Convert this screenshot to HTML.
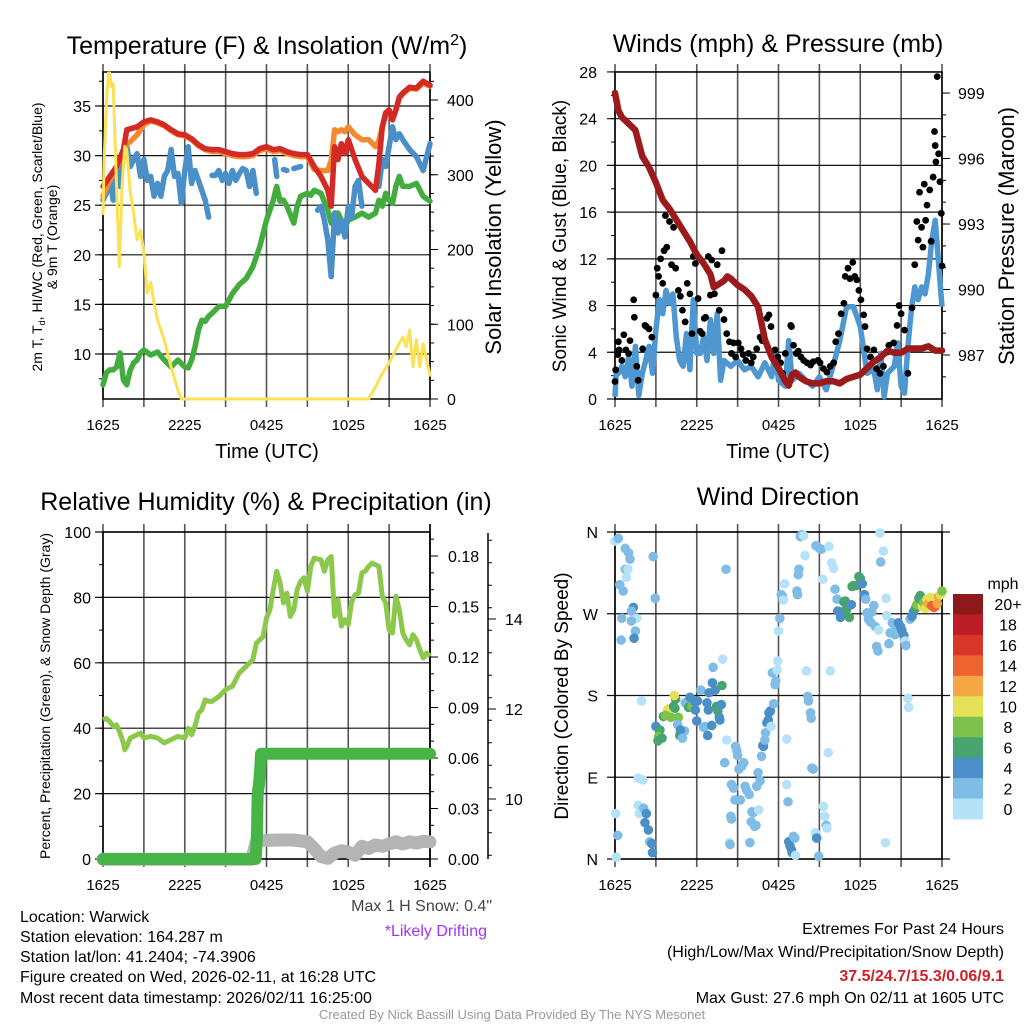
<!DOCTYPE html>
<html><head><meta charset="utf-8"><style>
html,body{margin:0;padding:0;background:#fff;}
svg{display:block;font-family:"Liberation Sans",Arial,sans-serif;}
</style></head><body>
<svg id="fig" width="1024" height="1024" viewBox="0 0 1024 1024" xmlns="http://www.w3.org/2000/svg">
<rect width="1024" height="1024" fill="#fff"/>
<g id="layer"></g>
<text x="267" y="54" font-size="25" text-anchor="middle">Temperature (F) &amp; Insolation (W/m<tspan dy="-9" font-size="16">2</tspan><tspan dy="9">)</tspan></text>
<text x="778" y="52" font-size="25" text-anchor="middle">Winds (mph) &amp; Pressure (mb)</text>
<text x="266" y="510" font-size="25" text-anchor="middle">Relative Humidity (%) &amp; Precipitation (in)</text>
<text x="778" y="505" font-size="25" text-anchor="middle">Wind Direction</text>

<text transform="translate(42,237) rotate(-90)" font-size="14" text-anchor="middle">2m T, T<tspan dy="3" font-size="9">d</tspan><tspan dy="-3">, HI/WC (Red, Green, Scarlet/Blue)</tspan></text>
<text transform="translate(57,237) rotate(-90)" font-size="14" text-anchor="middle">&amp; 9m T (Orange)</text>
<text transform="translate(501,237) rotate(-90)" font-size="22" text-anchor="middle">Solar Insolation (Yellow)</text>
<text transform="translate(566,236) rotate(-90)" font-size="19" text-anchor="middle">Sonic Wind &amp; Gust (Blue, Black)</text>
<text transform="translate(1014,236) rotate(-90)" font-size="22" text-anchor="middle">Station Pressure (Maroon)</text>
<text transform="translate(50,696) rotate(-90)" font-size="14" text-anchor="middle">Percent, Precipitation (Green), &amp; Snow Depth (Gray)</text>
<text transform="translate(568,696) rotate(-90)" font-size="19" text-anchor="middle">Direction (Colored By Speed)</text>
<text x="267" y="458" font-size="20" text-anchor="middle">Time (UTC)</text>
<text x="778" y="458" font-size="20" text-anchor="middle">Time (UTC)</text>

<text x="492" y="911" font-size="16" fill="#444" text-anchor="end">Max 1 H Snow: 0.4"</text>
<text x="487" y="936" font-size="16" fill="#a335f0" text-anchor="end">*Likely Drifting</text>
<g font-size="16">
<text x="20" y="922">Location: Warwick</text>
<text x="20" y="942">Station elevation: 164.287 m</text>
<text x="20" y="962">Station lat/lon: 41.2404; -74.3906</text>
<text x="20" y="982">Figure created on Wed, 2026-02-11, at 16:28 UTC</text>
<text x="20" y="1003">Most recent data timestamp: 2026/02/11 16:25:00</text>
</g>
<g font-size="16" text-anchor="end">
<text x="1004" y="934">Extremes For Past 24 Hours</text>
<text x="1004" y="957">(High/Low/Max Wind/Precipitation/Snow Depth)</text>
<text x="1004" y="981" fill="#d0202a" font-weight="bold">37.5/24.7/15.3/0.06/9.1</text>
<text x="1004" y="1003">Max Gust: 27.6 mph On 02/11 at 1605 UTC</text>
</g>
<text x="512" y="1019" font-size="13" fill="#999" text-anchor="middle">Created By Nick Bassill Using Data Provided By The NYS Mesonet</text>
</svg>
<script>
// ---------- Panel 1 data ----------
const tempHours = [0,0.5,1,1.5,1.75,2,2.5,3,3.5,4,4.5,5,5.5,6,6.5,7,7.5,8,8.5,9,9.5,10,10.5,11,11.5,12,12.5,13,13.5,14,14.5,15,15.5,16,16.5,16.75,17,17.25,17.5,17.75,18,18.5,19,19.5,20,20.25,20.5,20.75,21,21.25,21.5,21.75,22,22.5,23,23.5,24];
const tempRed = [26.9,27.9,28.9,30.6,32.6,32.7,32.9,33.4,33.6,33.4,33.1,32.6,32.2,32.1,31.7,31.1,30.7,30.6,30.6,30.4,30.2,30.1,30.1,30.2,30.7,30.9,30.6,30.7,30.4,30.2,30.1,30.1,28.9,27.9,26.5,24.9,30.9,29.6,31.2,30.2,31.6,29.6,27.9,27.2,26.5,29.2,32.9,34.3,34.6,33.6,34.6,35.9,36.3,36.9,36.8,37.5,37.1];
const tempOrange = [25.9,27.5,28.9,30.2,31.2,31.4,32.1,33.1,33.5,33.3,33.0,32.5,32.1,32.0,31.6,31.0,30.6,30.4,30.4,30.2,30.0,29.9,29.9,30.0,30.5,30.7,30.4,30.5,30.2,30.0,29.9,29.9,28.6,28.5,28.5,29.5,32.6,32.4,32.6,32.4,32.9,32.1,31.6,31.6,30.9,31.5,32.9,34.0,34.5,33.8,34.6,35.8,36.2,36.8,36.7,37.3,37.0];
const hiwcHours = [0,0.25,0.5,0.75,1,1.25,1.5,1.75,2,2.25,2.5,2.75,3,3.25,3.5,3.75,4,4.25,4.5,4.75,5,5.25,5.5,5.75,6,6.25,6.5,6.75,7,7.25,7.5,7.75,7.9,8,8.25,8.5,8.75,9,9.25,9.5,9.75,10,10.25,10.5,10.75,11,11.25,11.4,11.75,11.9,12.6,12.75,12.9,13.25,13.5,13.6,14,14.5,15.6,15.75,16,16.25,16.5,16.75,17,17.25,17.5,17.75,18,18.25,18.5,18.75,19,19.3,20.25,20.5,20.75,21,21.25,21.5,21.75,22,22.5,23,23.5,24];
const hiwcBlue = [25.5,26.2,27.9,25.5,28.5,26.9,30.2,30.9,28.9,29.6,30.2,27.9,29.6,27.5,27.9,25.9,27.2,25.9,27.9,28.5,30.6,27.9,28.2,25.2,28.5,30.9,27.2,28.5,27.5,26.5,25.5,23.8,null,28.0,28.0,28.5,27.5,28.2,27.2,28.5,27.5,28.2,28.7,28.5,26.9,28.5,26.2,null,28.2,null,29.6,27.9,null,28.6,28.5,null,28.7,28.9,null,24.5,24.9,23.5,21.5,17.8,24.2,22.2,23.5,21.8,24.9,23.8,26.9,27.5,24.9,null,26.9,29.6,28.9,30.9,32.9,31.6,32.2,31.6,30.6,29.9,28.5,31.2];
const dewHours = [0,0.25,0.5,0.75,1,1.25,1.5,1.75,2,2.25,2.5,2.75,3,3.5,4,4.5,5,5.5,6,6.25,6.5,6.75,7,7.25,7.5,7.75,8,8.5,9,9.5,10,10.5,11,11.5,12,12.5,12.75,13,13.25,13.5,14,14.25,14.5,15,15.25,15.5,16,16.5,16.75,17,17.25,17.5,17.75,18,18.5,19,19.5,20,20.25,20.5,20.75,21,21.25,21.5,21.75,22,22.5,23,23.5,24];
const dewGreen = [6.9,8.1,8.4,8.4,8.7,10.1,7.4,6.9,8.4,9.1,9.4,10.1,10.4,9.9,10.2,9.4,8.7,9.4,8.7,8.6,9.4,10.7,12.4,13.4,13.3,13.8,14.1,14.8,14.8,16.1,17.0,17.6,18.8,20.8,23.5,25.5,26.9,25.4,25.5,24.9,23.2,24.9,25.9,26.2,26.0,26.5,26.2,24.5,23.2,24.2,24.2,23.5,22.8,23.5,23.8,24.2,23.8,24.2,25.5,24.9,26.2,25.5,25.2,26.9,27.9,26.9,26.9,27.2,25.9,25.4];
const solarHours = [0,0.1,0.25,0.4,0.5,0.6,0.75,1,1.2,1.4,1.6,1.75,2,2.25,2.5,2.75,3,3.25,3.5,3.75,4,4.5,5,5.5,5.75,19.5,20,20.5,21,21.5,22,22.25,22.5,22.75,23,23.25,23.5,24];
const solarW = [248,329,395,436,436,418,422,284,177,284,338,333,276,248,213,226,195,142,156,128,106,79,43,12,0,0,16,34,48,66,83,70,92,43,79,43,74,32];
const tempTicks = [10,15,20,25,30,35];
const solarTicks = [0,100,200,300,400];
const timeTickLabels = ["1625","2225","0425","1025","1625"];

// ---------- Panel 2 data ----------
const presHours = [0,0.25,0.5,1,1.5,1.75,2,2.5,3,3.5,4,4.5,5,5.5,6,6.5,7,7.25,7.5,8,8.25,8.5,9,9.5,10,10.5,11,11.5,12,12.5,12.75,13,13.25,13.5,14,14.5,15,15.5,16,16.5,17,17.5,18,18.5,19,19.5,20,20.5,21,21.5,22,22.5,23,23.5,24];
const presMb = [999.0,998.2,997.9,997.6,997.3,996.7,996.1,995.6,994.9,994.1,993.7,993.2,992.7,992.2,991.6,991.2,990.7,990.1,990.2,990.4,990.6,990.5,990.2,990.0,989.7,989.2,987.7,986.9,986.4,985.8,985.6,986.1,986.2,986.0,985.8,985.7,985.7,985.8,985.8,985.7,985.9,986.0,986.1,986.4,986.7,986.9,987.2,987.1,987.1,987.3,987.3,987.3,987.4,987.2,987.2];
const windHours = [0,0.1,0.25,0.5,0.75,1,1.25,1.5,1.75,2,2.25,2.5,2.75,3,3.25,3.5,3.75,4,4.25,4.5,4.75,5,5.25,5.5,5.75,6,6.25,6.5,6.75,7,7.25,7.5,7.75,8,8.5,9,9.5,10,10.5,11,11.5,11.75,12,12.5,12.75,13,13.5,14,14.5,15,15.5,16,16.5,17,17.5,18,18.25,18.5,19,19.25,19.5,19.75,20,20.5,20.75,21,21.25,21.5,21.75,22,22.25,22.5,22.75,23,23.25,23.5,23.75,24];
const windMph = [0.2,2.5,2.2,2.8,1.9,3.6,1.1,4.5,0.3,2.2,3.3,4.5,2.2,5.9,8.5,7.3,9.3,8.2,9.0,5.3,3.3,2.8,5.6,2.5,8.5,3.9,3.9,5.3,3.3,6.8,3.9,7.3,1.6,3.3,2.8,3.3,2.5,2.8,1.9,3.1,1.9,4.2,1.6,1.1,5.0,1.6,2.2,1.6,1.1,1.9,0.8,2.8,5.0,7.9,7.9,6.2,4.2,2.2,2.5,0.8,3.9,0.2,2.2,2.8,4.8,1.1,0.5,4.5,7.6,9.6,8.5,9.6,9.0,10.7,13.6,15.3,11.6,7.9];
const gustHours = [0,0.05,0.2,0.25,0.3,0.65,0.5,0.8,1.0,1.1,1.37,1.42,1.6,1.7,2.03,2.2,2.3,2.5,2.7,3.0,3.1,3.2,3.35,3.5,3.6,3.7,3.8,4.0,4.15,4.3,4.45,4.65,4.8,4.95,5.15,5.3,5.5,5.65,5.75,5.9,6.1,6.25,6.4,6.55,6.65,6.85,7.0,7.1,7.3,7.5,7.65,7.85,8.0,8.2,8.4,8.55,8.7,8.85,9.05,9.25,9.4,9.6,9.8,10.0,10.15,10.4,10.65,10.8,11.15,11.3,11.45,11.75,11.95,12.15,12.3,12.5,12.9,12.95,13.1,13.3,13.45,13.65,13.85,14.1,14.35,14.55,14.9,15.05,15.3,15.55,15.8,16.05,16.2,16.4,16.6,16.8,16.9,17.1,17.25,17.45,17.6,17.75,17.9,18.05,18.25,18.35,18.5,18.75,19.0,19.2,19.45,19.7,19.95,20.1,20.45,20.7,20.85,21.0,21.25,21.5,21.8,22.0,22.15,22.25,22.35,22.5,22.6,22.7,22.8,22.9,23.1,23.2,23.35,23.45,23.5,23.55,23.65,23.75,23.85,23.95,24.0];
const gustMph = [1.5,2.5,3.8,4.9,4.2,5.5,3.3,4.2,3.9,5.0,8.5,7.0,2.8,1.6,4.3,6.3,6.2,6.0,5.3,8.9,11.2,10.5,12.0,9.9,12.7,15.7,13.0,15.2,11.5,14.7,11.2,9.3,8.8,7.6,6.6,9.9,9.0,5.6,12.2,11.6,8.6,5.8,5.6,6.9,7.0,12.2,8.9,11.9,9.0,11.5,7.6,12.7,6.8,5.6,4.9,3.9,4.8,3.6,4.8,4.3,3.8,3.3,3.9,3.1,3.6,4.3,5.3,5.0,6.9,7.2,6.2,4.2,3.6,3.1,2.2,3.9,6.3,6.2,4.6,3.9,4.1,3.6,3.3,3.1,2.9,3.2,3.3,3.1,2.6,2.3,2.8,3.1,4.9,5.6,7.3,8.2,10.5,11.2,10.3,11.7,10.5,10.2,9.3,8.5,7.2,6.2,4.3,3.6,4.2,2.6,2.2,2.8,4.0,4.6,4.8,6.3,8.0,7.3,5.9,2.2,7.8,11.5,15.2,13.6,17.7,14.7,13.0,18.4,15.3,16.6,17.9,13.5,19.0,22.9,21.7,20.3,27.6,21.0,18.6,15.9,11.4];
const windTicks = [0,4,8,12,16,20,24,28];
const presTicks = [987,990,993,996,999];

// ---------- Panel 3 data ----------
const rhHours = [0,0.25,0.5,0.75,1,1.25,1.5,1.6,1.75,2,2.5,2.75,3,3.5,4,4.5,5,5.5,6,6.25,6.5,6.75,7,7.25,7.5,7.75,8,8.5,9,9.5,10,10.5,11,11.25,11.5,11.75,12,12.25,12.5,12.75,13,13.25,13.5,13.75,14,14.25,14.5,14.75,15,15.25,15.5,16,16.25,16.5,16.75,17,17.25,17.5,17.75,18,18.25,18.5,18.75,19,19.25,19.5,19.75,20,20.25,20.5,20.75,21,21.25,21.5,21.75,22,22.25,22.5,22.75,23,23.25,23.5,23.75,24];
const rhPct = [42.6,43,42,40.6,41,38.5,35.5,33.4,34.5,37,38,38.5,37,37.5,37,35.5,36.5,37.5,37,40,38,40.6,44.6,45.7,48.7,48.2,48.2,49.7,51.8,52.8,56.9,58.9,61,66,67,68,73.7,76.2,82.4,88,84.4,78.3,81.3,74.2,76.2,82.4,84.9,86,81.9,89.5,92,91.5,88,91.5,92.5,74.2,79.3,71.2,73.2,71.7,78.8,80.8,81.3,87.5,88,89.5,90.5,90,89.5,80.3,78.3,70.1,69.1,80.3,76.2,69.1,67,65.5,68.6,67,64,61.5,63,62];
const precipHours = [0,11.2,11.25,11.3,11.35,11.4,11.45,11.5,11.55,11.6,24];
const precipIn = [0,0,0.0055,0.016,0.037,0.042,0.044,0.05,0.055,0.0625,0.0625];
const snowHours = [0,10.9,11.3,12,13,14,15,15.5,16,16.5,17,17.5,18,18.5,19,19.5,20,20.5,21,21.5,22,22.5,23,23.5,24];
const snowIn = [8.66,8.66,9.09,9.08,9.09,9.09,9.05,8.9,8.72,8.68,8.8,8.85,8.82,8.75,8.95,8.9,8.98,8.95,9.0,9.05,9.0,9.05,9.02,9.06,9.05];
const rhTicks = [0,20,40,60,80,100];
const precipTicks = ["0.00","0.03","0.06","0.09","0.12","0.15","0.18"];
const snowTicks = [10,12,14];

// ---------- Panel 4 data ----------
const dirHours = [0,0.25,0.75,1.0,1.1,0.75,0.95,0.85,0.35,0.6,1.35,1.2,0.5,1.6,1.2,1.5,1.4,0.45,2.8,2.95,1.95,1.7,2.05,1.7,1.8,2.1,2.3,2.2,2.45,2.55,2.7,2.75,0.05,0.2,0.1,
3.0,3.3,3.2,3.15,3.45,3.55,3.85,3.9,3.7,4.1,4.3,4.45,4.35,4.65,4.4,4.6,4.75,5.1,4.8,4.95,5.15,5.4,5.65,5.5,5.75,5.85,5.9,6.0,6.05,6.3,6.5,6.6,6.75,6.85,6.9,7.1,7.15,7.35,7.45,7.55,7.65,7.7,7.8,7.85,6.8,7.2,7.9,8.15,8.2,8.05,
8.4,8.45,8.5,8.55,8.55,8.7,8.8,8.85,8.95,9.0,9.2,9.1,9.3,9.45,9.55,9.65,9.85,9.9,10.0,10.05,10.15,10.25,10.35,10.4,10.5,10.55,10.65,10.75,10.85,10.9,11.0,11.05,11.15,11.25,11.3,11.4,11.45,11.55,11.65,11.75,11.8,11.9,11.95,12.0,12.1,12.2,12.3,12.35,12.45,12.6,12.6,12.7,12.75,12.85,12.95,13.0,13.1,13.2,13.25,13.35,13.4,13.45,13.5,13.6,13.7,13.85,13.95,14.05,14.15,14.2,14.35,14.4,14.45,14.55,14.7,14.8,14.95,14.75,15.0,15.15,15.25,15.3,15.4,15.5,15.55,15.65,15.7,15.8,15.9,16.05,16.15,16.3,
16.35,16.55,16.65,16.8,16.9,17.0,17.2,17.35,17.4,17.5,17.7,17.9,18.0,18.05,18.15,18.3,18.4,18.5,18.6,18.75,18.85,19.0,19.1,19.2,19.3,19.35,19.45,19.5,19.7,19.85,19.9,19.95,20.1,20.2,20.35,20.45,20.55,20.7,20.8,20.95,21.05,21.2,21.3,21.35,21.5,21.55,21.65,21.8,21.9,22.05,22.15,22.3,22.4,22.55,22.65,22.8,22.9,23.0,23.15,23.25,23.4,23.5,23.65,23.75,23.9,24.0];
const dirDeg = [350,353,342,337,330,319,319,310,302,295,277,273,265,265,262,251,243,241,333,287,174,89,87,59,50,56,50,40,32,19,17,7,50,26,2,
146,142,135,130,133,157,164,165,158,156,168,176,180,156,166,148,136,141,142,133,172,167,168,178,168,174,164,152,174,186,145,146,172,164,183,147,194,186,168,163,156,153,170,191,136,211,220,319,131,106,
18,16,47,44,82,78,65,124,119,114,65,99,102,106,80,76,71,18,41,52,51,36,37,80,95,54,86,113,125,124,131,139,150,153,161,163,146,205,171,192,196,208,218,251,265,291,289,285,303,132,82,63,19,14,10,7,25,23,4,295,291,313,319,355,357,356,334,207,179,174,161,155,100,99,29,23,3,345,342,341,308,58,47,37,34,117,344,207,326,320,297,286,
273,266,272,283,284,275,266,280,300,301,301,311,309,304,303,291,286,271,264,261,272,279,256,234,229,252,359,327,339,18,287,268,237,249,260,250,247,251,260,256,252,246,240,235,177,167,264,267,272,276,280,287,290,278,282,276,286,281,288,279,277,278,281,289,291,295];
const dirSpeed = [1,3,3,3,3,3,1,1,3,3,5,3,3,1,3,3,5,3,3,3,1,1,1,1,1,3,5,5,5,3,5,5,1,3,1,
5,7,9,7,7,7,11,11,9,9,7,7,11,9,7,3,7,3,5,3,3,7,9,5,9,5,5,5,5,3,3,3,5,5,5,5,5,5,7,7,5,5,5,7,5,3,1,3,1,3,
1,3,3,3,3,3,3,3,3,3,3,3,3,3,3,3,3,3,3,3,3,3,3,3,3,1,3,3,5,5,3,3,5,5,5,5,1,3,3,3,3,1,1,1,3,3,3,1,1,1,1,3,5,5,5,5,3,3,1,3,3,3,3,3,3,1,1,1,3,3,3,3,3,3,1,5,3,3,3,3,1,1,1,3,1,1,1,1,1,1,3,3,
5,5,5,7,7,7,7,5,7,7,7,7,7,7,5,5,3,3,3,3,3,3,3,3,3,1,1,3,1,1,1,1,3,3,3,3,3,3,5,5,5,5,1,3,1,1,3,5,5,7,9,7,7,11,9,11,11,13,11,15,15,15,13,13,11,9];
const dirTicks = ["N","E","S","W","N"];
const speedBinLabels = ["0","2","4","6","8","10","12","14","16","18","20+"];
const speedBinColors = ["#b5e2f7","#7fbce6","#4a8fc7","#48a46f","#7cc24c","#e4e058","#f5a645","#ee6430","#d9362a","#bd1e25","#8e191b"];

// ---------- drawing ----------
const NS = "http://www.w3.org/2000/svg";
const layer = document.getElementById("layer");
function mk(tag, attrs, parent) {
  const e = document.createElementNS(NS, tag);
  for (const k in attrs) e.setAttribute(k, attrs[k]);
  (parent || layer).appendChild(e);
  return e;
}
function txt(s, x, y, size, anchor, parent) {
  const t = mk("text", {x: x, y: y, "font-size": size, "text-anchor": anchor || "middle"}, parent);
  t.textContent = s;
  return t;
}
function pathD(hs, vs, fx, fy) {
  let d = "", pen = false;
  for (let i = 0; i < hs.length; i++) {
    if (vs[i] === null) { pen = false; continue; }
    d += (pen ? "L" : "M") + fx(hs[i]).toFixed(1) + "," + fy(vs[i]).toFixed(1);
    pen = true;
  }
  return d;
}
function panelFrame(P, name) {
  const g = mk("g", {});
  
  
  const xs = h => P.L + h * (P.R - P.L) / 24;
  for (let h = 0; h <= 24; h += 3) {
    const x = xs(h);
    const l = mk("line", {x1: x, x2: x, y1: P.T - 8, y2: P.B + 8, stroke: "#555", "stroke-width": 1.6}, g);
    
    
  }
  for (let i = 0; i < timeTickLabels.length; i++) {
    const t = txt(timeTickLabels[i], xs(i * 6), P.B + 31, 15, "middle", g);
    
    
  }
  return g;
}
function box(P, g) {
  mk("rect", {x: P.L, y: P.T, width: P.R - P.L, height: P.B - P.T, fill: "none", stroke: "#000", "stroke-width": 1.5}, g);
}
function hgrid(P, g, y, ext) {
  mk("line", {x1: P.L - 8, x2: P.R + (ext || 0), y1: y, y2: y, stroke: "#111", "stroke-width": 1.2}, g);
}
function ticksY(g, x, y0, y1, step, len) {
  for (let y = y0; y >= y1 - 0.5; y -= step) mk("line", {x1: x, x2: x + len, y1: y, y2: y, stroke: "#000", "stroke-width": 1}, g);
}

// Panel 1
const P1 = {L: 103, R: 430, T: 72, B: 399};
const x1 = h => P1.L + h * (P1.R - P1.L) / 24;
const yT = v => 354 - (v - 10) * 9.92;
const yS = v => 399 - v * 0.7475;
const g1 = panelFrame(P1, "temperature");
tempTicks.forEach(v => { hgrid(P1, g1, yT(v)); const t = txt(String(v), 91, yT(v) + 6, 16, "end", g1);   });
ticksY(g1, P1.L, yT(7.5), P1.T, 24.8, -4);
solarTicks.forEach(v => { mk("line", {x1: P1.R, x2: P1.R + 8, y1: yS(v), y2: yS(v), stroke: "#000"}, g1); const t = txt(String(v), 447, yS(v) + 6, 16, "start", g1);   });
ticksY(g1, P1.R, yS(0), P1.T, 0.7475 * 25, 4);
box(P1, g1);
const s1 = [
  ["dewpoint-line", dewHours, dewGreen, yT, "#43ac3f", 5.5],
  ["heat-index-wind-chill-line", hiwcHours, hiwcBlue, yT, "#4b8fc8", 5.5],
  ["temp-9m-line", tempHours, tempOrange, yT, "#f5892f", 5.5],
  ["temp-2m-line", tempHours, tempRed, yT, "#d42a26", 5.5],
  ["solar-insolation-line", solarHours, solarW, yS, "#fbe155", 3]
];
s1.forEach(s => {
  const p = mk("path", {d: pathD(s[1], s[2], x1, s[3]), fill: "none", stroke: s[4], "stroke-width": s[5], "stroke-linejoin": "round", "stroke-linecap": "round"});
  
  
});

// Panel 2
const P2 = {L: 615, R: 942, T: 72, B: 399};
const x2 = h => P2.L + h * (P2.R - P2.L) / 24;
const yW = v => 399 - v * 11.68;
const yP = v => 355 - (v - 987) * 21.83;
const g2 = panelFrame(P2, "winds");
windTicks.forEach(v => { hgrid(P2, g2, yW(v)); const t = txt(String(v), 597, yW(v) + 6, 16, "end", g2);   });
ticksY(g2, P2.L, yW(2), P2.T, 23.36, -4);
presTicks.forEach(v => { mk("line", {x1: P2.R, x2: P2.R + 8, y1: yP(v), y2: yP(v), stroke: "#000"}, g2); const t = txt(String(v), 958, yP(v) + 6, 16, "start", g2);   });
ticksY(g2, P2.R, yP(986), P2.T, 21.83, 4);
box(P2, g2);
const wl = mk("path", {d: pathD(windHours, windMph, x2, yW), fill: "none", stroke: "#4e97d1", "stroke-width": 5.5, "stroke-linejoin": "round"});


const gg = mk("g", {fill: "#000"});


for (let i = 0; i < gustHours.length; i++) {
  const c = mk("circle", {cx: x2(gustHours[i]), cy: yW(gustMph[i]), r: 3.4}, gg);
  
  
}
const pl = mk("path", {d: pathD(presHours, presMb, x2, yP), fill: "none", stroke: "#9c1a1c", "stroke-width": 6.5, "stroke-linejoin": "round", "stroke-linecap": "round"});



// Panel 3
const P3 = {L: 103, R: 430, T: 532, B: 859};
const x3 = h => P3.L + h * (P3.R - P3.L) / 24;
const yR = v => 859 - v * 3.27;
const yPr = v => 859 - v / 0.03 * 50.5;
const ySn = v => 799 - (v - 10) * 45;
const g3 = panelFrame(P3, "humidity");
rhTicks.forEach(v => { hgrid(P3, g3, yR(v)); const t = txt(String(v), 91, yR(v) + 6, 16, "end", g3);   });
ticksY(g3, P3.L, yR(10), P3.T, 32.7, -4);
precipTicks.forEach(v => { const y = yPr(parseFloat(v)); mk("line", {x1: P3.R, x2: P3.R + 8, y1: y, y2: y, stroke: "#000"}, g3); const t = txt(v, 448, y + 6, 16, "start", g3);   });
ticksY(g3, P3.R, yPr(0.01), P3.T, 50.5 / 3, 4);
mk("line", {x1: P3.R, x2: P3.R, y1: P3.T - 8, y2: P3.B + 8, stroke: "#000", "stroke-width": 1.5}, g3);
box(P3, g3);
const sa = mk("g", {});


mk("line", {x1: 488, x2: 488, y1: 533, y2: 859, stroke: "#000", "stroke-width": 1.5}, sa);
snowTicks.forEach(v => { mk("line", {x1: 488, x2: 496, y1: ySn(v), y2: ySn(v), stroke: "#000"}, sa); const t = txt(String(v), 505, ySn(v) + 6, 16, "start", sa);   });
ticksY(sa, 488, ySn(8.75), 536, 22.5, 4);
const sl = mk("path", {d: pathD(snowHours, snowIn, x3, ySn), fill: "none", stroke: "#b4b4b4", "stroke-width": 13, "stroke-linejoin": "round", "stroke-linecap": "round"});


const rl = mk("path", {d: pathD(rhHours, rhPct, x3, yR), fill: "none", stroke: "#8cc84b", "stroke-width": 5, "stroke-linejoin": "round"});


const prl = mk("path", {d: pathD(precipHours, precipIn, x3, yPr), fill: "none", stroke: "#46b446", "stroke-width": 12, "stroke-linejoin": "round", "stroke-linecap": "round"});



// Panel 4
const P4 = {L: 615, R: 942, T: 532, B: 859};
const x4 = h => P4.L + h * (P4.R - P4.L) / 24;
const yD = v => 859 - v * 327 / 360;
const g4 = panelFrame(P4, "wind-direction");
dirTicks.forEach((s, i) => { const y = yD(i * 90); hgrid(P4, g4, y, 8); const t = txt(s, 598, y + 6, 16, "end", g4);   });
box(P4, g4);
const dg = mk("g", {});


for (let i = 0; i < dirHours.length; i++) {
  const bin = Math.min(10, Math.floor(dirSpeed[i] / 2));
  const c = mk("circle", {cx: x4(dirHours[i]), cy: yD(dirDeg[i]), r: 4.8, fill: speedBinColors[bin]}, dg);
  
  
}
const cb = mk("g", {});


const mph = txt("mph", 1003, 589, 16, "middle", cb);


const cbTop = 594, cbH = 225 / speedBinLabels.length;
for (let i = 0; i < speedBinLabels.length; i++) {
  const k = speedBinLabels.length - 1 - i;
  const y = cbTop + i * cbH;
  const r = mk("rect", {x: 953, y: y, width: 30, height: cbH + 0.5, fill: speedBinColors[k]}, cb);
  
  
  const t = txt(speedBinLabels[k], 1008, y + cbH / 2 + 6, 16, "middle", cb);
  
  
}
</script>
</body></html>
